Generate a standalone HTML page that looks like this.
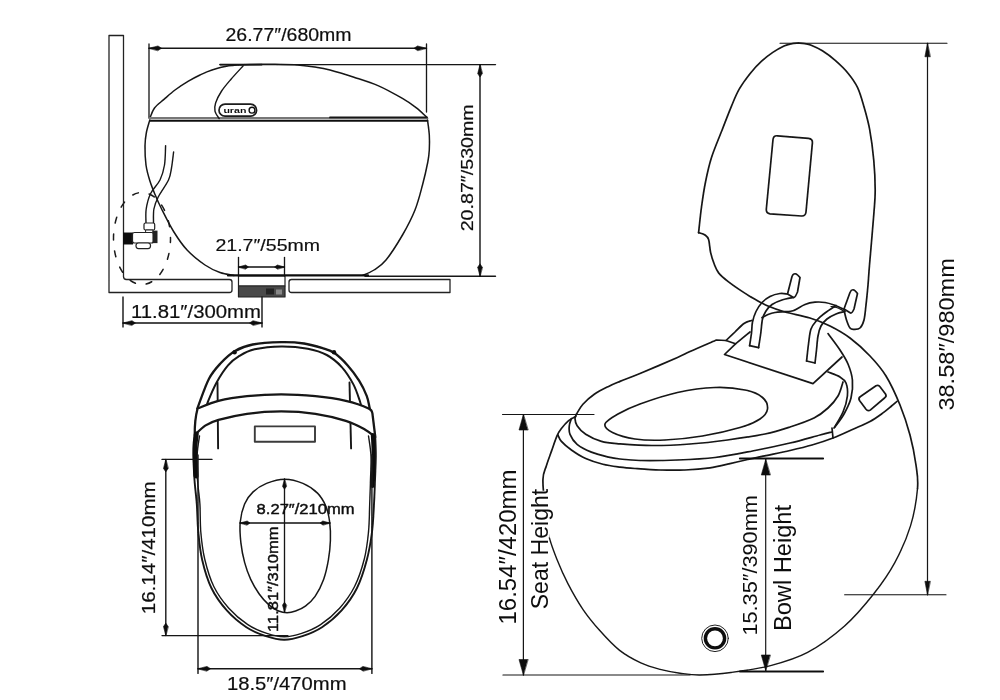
<!DOCTYPE html>
<html><head><meta charset="utf-8"><title>dimensions</title>
<style>
html,body{margin:0;padding:0;background:#fff;}
body{width:1000px;height:700px;overflow:hidden;font-family:"Liberation Sans",sans-serif;}
svg{display:block;}
svg text{font-family:"Liberation Sans",sans-serif;}
</style></head><body>
<svg width="1000" height="700" viewBox="0 0 1000 700" stroke-linecap="round" stroke-linejoin="round">
<defs><filter id="bl" x="0" y="0" width="1000" height="700" filterUnits="userSpaceOnUse"><feGaussianBlur stdDeviation="0.38"/></filter><filter id="br" x="0" y="0" width="1000" height="700" filterUnits="userSpaceOnUse"><feGaussianBlur stdDeviation="0.25"/></filter></defs>
<rect width="1000" height="700" fill="#fff"/>
<g filter="url(#bl)">
<path d="M109,292.5 L109,35.5 L123.5,35.5 L123.5,276.5 Q123.5,279.5 126.5,279.5 L229.5,279.5 Q232,279.5 232,282 L232,290 Q232,292.5 229.5,292.5 Z" fill="none" stroke="#222" stroke-width="1.3" />
<path d="M291.5,279.5 L450,279.5 L450,292.5 L291.5,292.5 Q289,292.5 289,290 L289,282 Q289,279.5 291.5,279.5Z" fill="none" stroke="#222" stroke-width="1.3" />
<rect x="238.5" y="276" width="46.5" height="10" fill="#fff" stroke="#222" stroke-width="1.2"/>
<rect x="238.5" y="286" width="46.5" height="11" fill="#4a4a4a" stroke="#222" stroke-width="1.2"/>
<rect x="266" y="288.5" width="8" height="6" fill="#222"/>
<rect x="276" y="289.5" width="6" height="5" fill="#888"/>
<line x1="149.00" y1="44.00" x2="149.00" y2="118.00" stroke="#151515" stroke-width="1.3" />
<line x1="426.50" y1="44.00" x2="426.50" y2="112.00" stroke="#151515" stroke-width="1.3" />
<line x1="149.00" y1="48.25" x2="426.50" y2="48.25" stroke="#151515" stroke-width="1.4" />
<path d="M149.00,48.25 L158.00,45.95 L161.50,48.25 L158.00,50.55Z" fill="#111" stroke="#111" stroke-width="0.6" stroke-linejoin="round"/>
<path d="M426.50,48.25 L417.50,45.95 L414.00,48.25 L417.50,50.55Z" fill="#111" stroke="#111" stroke-width="0.6" stroke-linejoin="round"/>
<line x1="220.00" y1="64.60" x2="495.50" y2="64.60" stroke="#151515" stroke-width="1.4" />
<line x1="365.00" y1="276.25" x2="495.50" y2="276.25" stroke="#151515" stroke-width="1.4" />
<line x1="480.00" y1="64.60" x2="480.00" y2="276.00" stroke="#151515" stroke-width="1.4" />
<path d="M480.00,64.60 L477.70,73.60 L480.00,77.10 L482.30,73.60Z" fill="#111" stroke="#111" stroke-width="0.6" stroke-linejoin="round"/>
<path d="M480.00,276.25 L477.70,267.25 L480.00,263.75 L482.30,267.25Z" fill="#111" stroke="#111" stroke-width="0.6" stroke-linejoin="round"/>
<line x1="238.50" y1="257.50" x2="238.50" y2="276.00" stroke="#151515" stroke-width="1.3" />
<line x1="284.50" y1="257.50" x2="284.50" y2="276.00" stroke="#151515" stroke-width="1.3" />
<line x1="238.50" y1="267.00" x2="284.50" y2="267.00" stroke="#151515" stroke-width="1.3" />
<path d="M238.50,267.00 L245.70,265.00 L248.50,267.00 L245.70,269.00Z" fill="#111" stroke="#111" stroke-width="0.6" stroke-linejoin="round"/>
<path d="M284.50,267.00 L277.30,265.00 L274.50,267.00 L277.30,269.00Z" fill="#111" stroke="#111" stroke-width="0.6" stroke-linejoin="round"/>
<line x1="123.00" y1="297.00" x2="123.00" y2="327.00" stroke="#151515" stroke-width="1.4" />
<line x1="262.00" y1="297.00" x2="262.00" y2="327.00" stroke="#151515" stroke-width="1.4" />
<line x1="123.00" y1="323.00" x2="262.00" y2="323.00" stroke="#151515" stroke-width="1.4" />
<path d="M123.00,323.00 L132.00,320.70 L135.50,323.00 L132.00,325.30Z" fill="#111" stroke="#111" stroke-width="0.6" stroke-linejoin="round"/>
<path d="M262.00,323.00 L253.00,320.70 L249.50,323.00 L253.00,325.30Z" fill="#111" stroke="#111" stroke-width="0.6" stroke-linejoin="round"/>
<path d="M150.20,117.40 C150.92,115.83 152.20,111.00 154.50,108.00 C156.80,105.00 160.58,102.40 164.00,99.40 C167.42,96.40 171.00,93.00 175.00,90.00 C179.00,87.00 183.83,83.90 188.00,81.40 C192.17,78.90 196.00,76.90 200.00,75.00 C204.00,73.10 207.20,71.53 212.00,70.00 C216.80,68.47 222.47,66.73 228.80,65.80 C235.13,64.87 242.30,64.65 250.00,64.40 C257.70,64.15 266.67,64.17 275.00,64.30 C283.33,64.43 293.33,64.75 300.00,65.20 C306.67,65.65 310.00,66.20 315.00,67.00 C320.00,67.80 323.50,68.30 330.00,70.00 C336.50,71.70 346.00,74.60 354.00,77.20 C362.00,79.80 370.00,82.10 378.00,85.60 C386.00,89.10 395.60,94.50 402.00,98.20 C408.40,101.90 412.32,104.67 416.40,107.80 C420.48,110.93 424.82,115.47 426.50,117.00" fill="none" stroke="#151515" stroke-width="1.5" />
<line x1="220.00" y1="64.60" x2="262.00" y2="64.60" stroke="#151515" stroke-width="1.6" />
<line x1="150.00" y1="118.20" x2="427.00" y2="118.20" stroke="#777" stroke-width="2.6" />
<line x1="330.00" y1="117.40" x2="427.00" y2="117.40" stroke="#151515" stroke-width="1.8" />
<line x1="150.00" y1="120.80" x2="427.50" y2="120.80" stroke="#111" stroke-width="1.8" />
<path d="M427.50,120.00 C427.80,122.50 429.00,130.00 429.30,135.00 C429.60,140.00 429.55,145.50 429.30,150.00 C429.05,154.50 428.93,156.17 427.80,162.00 C426.67,167.83 424.63,177.00 422.50,185.00 C420.37,193.00 418.33,201.67 415.00,210.00 C411.67,218.33 407.33,226.67 402.50,235.00 C397.67,243.33 390.75,254.17 386.00,260.00 C381.25,265.83 377.83,267.45 374.00,270.00 C370.17,272.55 364.83,274.42 363.00,275.30" fill="none" stroke="#151515" stroke-width="1.5" />
<path d="M149.80,120.00 C149.22,122.17 147.10,128.67 146.30,133.00 C145.50,137.33 145.05,140.67 145.00,146.00 C144.95,151.33 145.23,159.33 146.00,165.00 C146.77,170.67 148.15,175.22 149.60,180.00 C151.05,184.78 152.70,188.87 154.70,193.70 C156.70,198.53 158.45,202.70 161.60,209.00 C164.75,215.30 169.32,224.62 173.60,231.50 C177.88,238.38 182.07,244.72 187.30,250.30 C192.53,255.88 199.55,261.30 205.00,265.00 C210.45,268.70 215.17,270.77 220.00,272.50 C224.83,274.23 231.67,274.92 234.00,275.40" fill="none" stroke="#151515" stroke-width="1.5" />
<line x1="228.00" y1="275.40" x2="368.00" y2="275.40" stroke="#111" stroke-width="2.2" />
<path d="M243.20,65.80 C241.20,68.00 234.80,74.80 231.20,79.00 C227.60,83.20 224.20,87.00 221.60,91.00 C219.00,95.00 216.70,99.60 215.60,103.00 C214.50,106.40 214.40,108.80 215.00,111.40 C215.60,114.00 218.50,117.40 219.20,118.60" fill="none" stroke="#151515" stroke-width="1.4" />
<rect x="219" y="104.2" width="37.6" height="12" rx="6" fill="#fff" stroke="#1a1a1a" stroke-width="1.7"/>
<text x="223.40" y="113.00" font-size="8" font-weight="bold" fill="#111" text-anchor="start" textLength="23.0" lengthAdjust="spacingAndGlyphs">uran</text>
<circle cx="252" cy="110.2" r="2.9" fill="none" stroke="#111" stroke-width="1.4"/>
<path d="M165.60,145.60 C165.42,148.83 165.43,159.27 164.50,165.00 C163.57,170.73 162.33,175.22 160.00,180.00 C157.67,184.78 152.80,188.87 150.50,193.70 C148.20,198.53 146.95,204.12 146.20,209.00 C145.45,213.88 146.03,220.67 146.00,223.00" fill="none" stroke="#151515" stroke-width="1.4" />
<path d="M173.60,152.00 C173.25,154.67 172.35,163.33 171.50,168.00 C170.65,172.67 170.72,175.17 168.50,180.00 C166.28,184.83 160.63,192.17 158.20,197.00 C155.77,201.83 154.68,204.67 153.90,209.00 C153.12,213.33 153.57,220.67 153.50,223.00" fill="none" stroke="#151515" stroke-width="1.4" />
<rect x="144" y="223" width="10.7" height="7" rx="1.5" fill="#fff" stroke="#222" stroke-width="1.2"/>
<rect x="146" y="230" width="7" height="4" fill="#fff" stroke="#222" stroke-width="1"/>
<rect x="123" y="232.5" width="10" height="12" fill="#111"/>
<rect x="132.5" y="232.5" width="21" height="10.5" rx="2" fill="#fff" stroke="#222" stroke-width="1.2"/>
<rect x="152.5" y="230.6" width="5" height="12.5" fill="#222"/>
<rect x="136" y="243" width="14.5" height="5.6" rx="2.5" fill="#fff" stroke="#222" stroke-width="1.2"/>
<ellipse cx="142" cy="238.5" rx="28.5" ry="46" fill="none" stroke="#1a1a1a" stroke-width="1.5" stroke-dasharray="6 11" stroke-dashoffset="2"/>
<text x="225.50" y="40.90" font-size="18" font-weight="normal" fill="#111" text-anchor="start" textLength="126.0" lengthAdjust="spacingAndGlyphs" stroke="#111" stroke-width="0.2">26.77″/680mm</text>
<text x="215.50" y="250.80" font-size="17.3" font-weight="normal" fill="#111" text-anchor="start" textLength="104.5" lengthAdjust="spacingAndGlyphs" stroke="#111" stroke-width="0.2">21.7″/55mm</text>
<text x="131.00" y="317.60" font-size="18.3" font-weight="normal" fill="#111" text-anchor="start" textLength="130.0" lengthAdjust="spacingAndGlyphs" stroke="#111" stroke-width="0.2">11.81″/300mm</text>
<text x="472.80" y="231.30" font-size="17.3" font-weight="normal" fill="#111" text-anchor="start" textLength="127.0" lengthAdjust="spacingAndGlyphs" transform="rotate(-90 472.80 231.30)" stroke="#111" stroke-width="0.2">20.87″/530mm</text>
<path d="M197.50,409.00 C197.67,408.38 196.58,410.35 198.50,405.30 C200.42,400.25 205.35,385.67 209.00,378.70 C212.65,371.73 216.13,368.08 220.40,363.50 C224.67,358.92 229.22,354.37 234.60,351.20 C239.98,348.03 244.93,346.00 252.70,344.50 C260.47,343.00 272.65,342.37 281.20,342.20 C289.75,342.03 297.03,342.48 304.00,343.50 C310.97,344.52 317.93,346.72 323.00,348.30 C328.07,349.88 330.28,350.15 334.40,353.00 C338.52,355.85 343.58,360.80 347.70,365.40 C351.82,370.00 355.93,375.53 359.10,380.60 C362.27,385.67 364.97,391.37 366.70,395.80 C368.43,400.23 368.87,404.67 369.50,407.20 C370.13,409.73 370.33,410.37 370.50,411.00" fill="none" stroke="#151515" stroke-width="2.3" />
<path d="M207.00,406.00 C207.17,405.25 206.40,405.42 208.00,401.50 C209.60,397.58 213.27,388.52 216.60,382.50 C219.93,376.48 224.20,369.83 228.00,365.40 C231.80,360.97 234.97,358.58 239.40,355.90 C243.83,353.22 247.63,350.88 254.60,349.30 C261.57,347.72 272.33,346.50 281.20,346.40 C290.07,346.30 300.20,347.27 307.80,348.70 C315.40,350.13 321.10,351.90 326.80,355.00 C332.50,358.10 337.57,362.40 342.00,367.30 C346.43,372.20 350.40,378.70 353.40,384.40 C356.40,390.10 358.73,397.90 360.00,401.50 C361.27,405.10 360.83,405.25 361.00,406.00" fill="none" stroke="#151515" stroke-width="2.0" />
<circle cx="234.6" cy="352.3" r="2.2" fill="#111"/><circle cx="334" cy="352.3" r="2.2" fill="#111"/>
<line x1="217.50" y1="382.50" x2="218.10" y2="448.40" stroke="#151515" stroke-width="1.9" />
<line x1="349.50" y1="382.50" x2="351.10" y2="448.40" stroke="#151515" stroke-width="1.9" />
<path d="M197.60,408.50 C201.08,407.23 210.27,402.95 218.50,400.90 C226.73,398.85 236.55,397.30 247.00,396.20 C257.45,395.10 269.80,394.30 281.20,394.30 C292.60,394.30 304.63,395.10 315.40,396.20 C326.17,397.30 336.93,398.85 345.80,400.90 C354.67,402.95 364.17,406.43 368.60,408.50 C373.03,410.57 371.77,412.50 372.40,413.30 L375.30,437.00 C373.55,435.73 369.72,432.08 364.80,429.40 C359.88,426.72 354.03,423.50 345.80,420.90 C337.57,418.30 326.17,415.38 315.40,413.80 C304.63,412.22 292.60,411.40 281.20,411.40 C269.80,411.40 257.45,412.38 247.00,413.80 C236.55,415.22 225.47,417.93 218.50,419.90 C211.53,421.87 209.16,423.07 205.20,425.60 C201.24,428.13 196.49,433.52 194.75,435.10 Q194.5,420 197.6,408.5Z" fill="#fff" stroke="#151515" stroke-width="2.3" />
<rect x="254.8" y="426.4" width="60.2" height="15.3" fill="none" stroke="#3a3a3a" stroke-width="1.9"/>
<path d="M194.75,435.10 C194.54,438.58 193.54,448.52 193.50,456.00 C193.46,463.48 193.95,472.00 194.50,480.00 C195.05,488.00 196.17,495.33 196.80,504.00 C197.43,512.67 197.40,522.67 198.30,532.00 C199.20,541.33 200.02,550.67 202.20,560.00 C204.38,569.33 207.30,579.60 211.40,588.00 C215.50,596.40 220.97,603.87 226.80,610.40 C232.63,616.93 239.87,622.90 246.40,627.20 C252.93,631.50 259.70,634.10 266.00,636.20 C272.30,638.30 278.13,639.80 284.20,639.80 C290.27,639.80 296.10,638.30 302.40,636.20 C308.70,634.10 315.47,631.50 322.00,627.20 C328.53,622.90 335.77,616.93 341.60,610.40 C347.43,603.87 352.80,596.40 357.00,588.00 C361.20,579.60 364.30,569.33 366.80,560.00 C369.30,550.67 370.80,541.33 372.00,532.00 C373.20,522.67 373.50,512.67 374.00,504.00 C374.50,495.33 374.70,488.00 375.00,480.00 C375.30,472.00 375.75,463.17 375.80,456.00 C375.85,448.83 375.38,440.17 375.30,437.00" fill="none" stroke="#151515" stroke-width="1.9" />
<path d="M199.50,436.00 C199.08,439.33 197.33,448.67 197.00,456.00 C196.67,463.33 197.02,472.00 197.50,480.00 C197.98,488.00 199.35,495.33 199.90,504.00 C200.45,512.67 200.00,522.83 200.80,532.00 C201.60,541.17 202.53,549.92 204.70,559.00 C206.87,568.08 209.78,578.30 213.80,586.50 C217.82,594.70 223.13,601.85 228.80,608.20 C234.47,614.55 241.47,620.40 247.80,624.60 C254.13,628.80 260.73,631.37 266.80,633.40 C272.87,635.43 278.40,636.80 284.20,636.80 C290.00,636.80 295.53,635.43 301.60,633.40 C307.67,631.37 314.27,628.80 320.60,624.60 C326.93,620.40 333.93,614.55 339.60,608.20 C345.27,601.85 350.48,594.70 354.60,586.50 C358.72,578.30 361.98,568.08 364.30,559.00 C366.62,549.92 367.60,541.17 368.50,532.00 C369.40,522.83 369.37,512.67 369.70,504.00 C370.03,495.33 370.28,488.00 370.50,480.00 C370.72,472.00 371.33,463.33 371.00,456.00 C370.67,448.67 368.92,439.33 368.50,436.00" fill="none" stroke="#151515" stroke-width="1.4" />
<path d="M196.30,434.00 C196.08,436.00 195.17,441.67 195.00,446.00 C194.83,450.33 195.13,455.00 195.30,460.00 C195.47,465.00 195.88,473.33 196.00,476.00" fill="none" stroke="#111" stroke-width="5" />
<path d="M372.80,435.00 C372.92,437.50 373.42,444.50 373.50,450.00 C373.58,455.50 373.47,462.00 373.30,468.00 C373.13,474.00 372.63,483.00 372.50,486.00" fill="none" stroke="#111" stroke-width="4" />
<path d="M284.70,479.20 C278.63,479.20 271.77,481.28 266.50,483.40 C261.23,485.52 256.75,488.47 253.10,491.90 C249.45,495.33 246.75,498.93 244.60,504.00 C242.45,509.07 240.82,515.82 240.20,522.30 C239.58,528.78 240.17,536.22 240.90,542.90 C241.63,549.58 242.97,556.32 244.60,562.40 C246.23,568.48 248.27,574.13 250.70,579.40 C253.13,584.67 256.17,589.75 259.20,594.00 C262.23,598.25 265.67,602.07 268.90,604.90 C272.13,607.73 275.57,609.70 278.60,611.00 C281.63,612.30 284.27,612.70 287.10,612.70 C289.93,612.70 292.55,612.10 295.60,611.00 C298.65,609.90 302.15,608.53 305.40,606.10 C308.65,603.67 312.07,600.85 315.10,596.40 C318.13,591.95 321.38,585.48 323.60,579.40 C325.82,573.32 327.27,566.38 328.40,559.90 C329.53,553.42 330.18,546.77 330.40,540.50 C330.62,534.23 330.43,527.97 329.70,522.30 C328.97,516.63 328.03,511.37 326.00,506.50 C323.97,501.63 321.35,496.95 317.50,493.10 C313.65,489.25 308.37,485.72 302.90,483.40 C297.43,481.08 290.77,479.20 284.70,479.20Z" fill="none" stroke="#151515" stroke-width="1.5" />
<line x1="162.00" y1="459.40" x2="212.00" y2="459.40" stroke="#151515" stroke-width="1.3" />
<line x1="162.00" y1="635.60" x2="288.00" y2="635.60" stroke="#151515" stroke-width="1.3" />
<line x1="165.80" y1="459.40" x2="165.80" y2="635.60" stroke="#151515" stroke-width="1.4" />
<path d="M165.80,459.40 L163.50,468.40 L165.80,471.90 L168.10,468.40Z" fill="#111" stroke="#111" stroke-width="0.6" stroke-linejoin="round"/>
<path d="M165.80,635.60 L163.50,626.60 L165.80,623.10 L168.10,626.60Z" fill="#111" stroke="#111" stroke-width="0.6" stroke-linejoin="round"/>
<line x1="198.00" y1="455.00" x2="198.00" y2="673.40" stroke="#151515" stroke-width="1.4" />
<line x1="371.90" y1="455.00" x2="371.90" y2="673.40" stroke="#151515" stroke-width="1.4" />
<line x1="198.00" y1="668.70" x2="371.90" y2="668.70" stroke="#151515" stroke-width="1.4" />
<path d="M198.00,668.70 L207.00,666.40 L210.50,668.70 L207.00,671.00Z" fill="#111" stroke="#111" stroke-width="0.6" stroke-linejoin="round"/>
<path d="M371.90,668.70 L362.90,666.40 L359.40,668.70 L362.90,671.00Z" fill="#111" stroke="#111" stroke-width="0.6" stroke-linejoin="round"/>
<line x1="240.00" y1="523.00" x2="330.00" y2="523.00" stroke="#151515" stroke-width="1.3" />
<path d="M240.00,523.00 L247.20,521.00 L250.00,523.00 L247.20,525.00Z" fill="#111" stroke="#111" stroke-width="0.6" stroke-linejoin="round"/>
<path d="M330.00,523.00 L322.80,521.00 L320.00,523.00 L322.80,525.00Z" fill="#111" stroke="#111" stroke-width="0.6" stroke-linejoin="round"/>
<line x1="284.50" y1="479.00" x2="284.50" y2="612.00" stroke="#151515" stroke-width="1.3" />
<path d="M284.50,479.20 L282.50,486.40 L284.50,489.20 L286.50,486.40Z" fill="#111" stroke="#111" stroke-width="0.6" stroke-linejoin="round"/>
<path d="M284.50,612.20 L282.50,605.00 L284.50,602.20 L286.50,605.00Z" fill="#111" stroke="#111" stroke-width="0.6" stroke-linejoin="round"/>
<text x="256.60" y="513.60" font-size="15" font-weight="normal" fill="#111" text-anchor="start" textLength="98.0" lengthAdjust="spacingAndGlyphs" stroke="#111" stroke-width="0.45">8.27″/210mm</text>
<text x="277.50" y="632.00" font-size="15" font-weight="normal" fill="#111" text-anchor="start" textLength="105.5" lengthAdjust="spacingAndGlyphs" transform="rotate(-90 277.50 632.00)" stroke="#111" stroke-width="0.45">11.81″/310mm</text>
<text x="155.00" y="614.30" font-size="18.5" font-weight="normal" fill="#111" text-anchor="start" textLength="133.0" lengthAdjust="spacingAndGlyphs" transform="rotate(-90 155.00 614.30)" stroke="#111" stroke-width="0.2">16.14″/410mm</text>
<text x="227.00" y="689.60" font-size="17.8" font-weight="normal" fill="#111" text-anchor="start" textLength="119.5" lengthAdjust="spacingAndGlyphs" stroke="#111" stroke-width="0.2">18.5″/470mm</text>
</g>
<g filter="url(#br)">
<path d="M798.40,43.10 C797.17,43.22 793.40,43.32 791.00,43.80 C788.60,44.28 787.03,44.57 784.00,46.00 C780.97,47.43 776.53,49.87 772.80,52.40 C769.07,54.93 765.33,57.73 761.60,61.20 C757.87,64.67 754.13,68.53 750.40,73.20 C746.67,77.87 742.40,83.60 739.20,89.20 C736.00,94.80 734.00,100.13 731.20,106.80 C728.40,113.47 725.68,120.75 722.40,129.20 C719.12,137.65 714.32,148.70 711.50,157.50 C708.68,166.30 707.17,173.75 705.50,182.00 C703.83,190.25 702.65,198.57 701.50,207.00 C700.35,215.43 699.08,228.33 698.60,232.60" fill="none" stroke="#151515" stroke-width="1.7" />
<path d="M698.60,232.60 C699.67,233.00 703.33,233.83 705.00,235.00 C706.67,236.17 707.65,236.62 708.60,239.60 C709.55,242.58 709.75,248.78 710.70,252.90 C711.65,257.02 712.98,260.97 714.30,264.30 C715.62,267.63 716.33,270.05 718.60,272.90 C720.87,275.75 723.98,278.32 727.90,281.40 C731.82,284.48 737.58,288.42 742.10,291.40 C746.62,294.38 750.68,296.87 755.00,299.30 C759.32,301.73 763.00,303.88 768.00,306.00 C773.00,308.12 778.00,310.00 785.00,312.00 C792.00,314.00 802.50,315.67 810.00,318.00 C817.50,320.33 823.33,322.67 830.00,326.00 C836.67,329.33 843.33,333.00 850.00,338.00 C856.67,343.00 864.00,349.67 870.00,356.00 C876.00,362.33 881.00,367.83 886.00,376.00 C891.00,384.17 896.00,395.17 900.00,405.00 C904.00,414.83 907.33,425.00 910.00,435.00 C912.67,445.00 914.75,456.07 916.00,465.00 C917.25,473.93 918.40,478.50 917.50,488.60" fill="none" stroke="#151515" stroke-width="1.7" />
<path d="M917.50,488.60 C916.60,498.70 914.38,513.27 910.60,525.60 C906.82,537.93 900.97,551.20 894.80,562.60 C888.63,574.00 881.97,583.43 873.60,594.00 C865.23,604.57 855.60,616.27 844.60,626.00 C833.60,635.73 819.93,645.80 807.60,652.40 C795.27,659.00 783.37,662.25 770.60,665.60 C757.83,668.95 742.77,670.93 731.00,672.50 C719.23,674.07 708.50,674.88 700.00,675.00 C691.50,675.12 686.65,674.13 680.00,673.20 C673.35,672.27 666.63,671.12 660.10,669.40 C653.57,667.68 647.60,666.12 640.80,662.90 C634.00,659.68 626.10,655.45 619.30,650.10 C612.50,644.75 606.07,637.60 600.00,630.80 C593.93,624.00 588.25,617.17 582.90,609.30 C577.55,601.43 572.18,591.82 567.90,583.60 C563.62,575.38 560.35,567.87 557.20,560.00 C554.05,552.13 550.92,544.07 549.00,536.40 C547.08,528.73 546.72,523.40 545.70,514.00" fill="none" stroke="#151515" stroke-width="1.4" />
<path d="M545.70,514.00 C544.68,504.60 542.78,488.05 542.90,480.00 C543.02,471.95 544.98,470.47 546.40,465.70 C547.82,460.93 549.62,456.40 551.40,451.40 C553.18,446.40 555.43,439.50 557.10,435.70 C558.77,431.90 559.48,431.10 561.40,428.60 C563.32,426.10 566.22,422.73 568.60,420.70 C570.98,418.67 574.52,417.12 575.70,416.40" fill="none" stroke="#151515" stroke-width="1.7" />
<path d="M798.40,43.10 C799.50,43.20 802.87,43.35 805.00,43.70 C807.13,44.05 808.30,44.02 811.20,45.20 C814.10,46.38 818.40,48.27 822.40,50.80 C826.40,53.33 830.93,56.67 835.20,60.40 C839.47,64.13 844.27,68.67 848.00,73.20 C851.73,77.73 854.93,82.00 857.60,87.60 C860.27,93.20 862.00,99.87 864.00,106.80 C866.00,113.73 867.98,120.33 869.60,129.20 C871.23,138.07 872.82,149.87 873.75,160.00 C874.68,170.13 875.20,180.83 875.20,190.00 C875.20,199.17 874.70,202.50 873.75,215.00 C872.80,227.50 870.46,253.33 869.50,265.00 C868.54,276.67 868.58,278.33 868.00,285.00 C867.42,291.67 866.67,299.17 866.00,305.00 C865.33,310.83 865.00,316.17 864.00,320.00 C863.00,323.83 861.67,326.45 860.00,328.00 C858.33,329.55 855.67,329.30 854.00,329.30 C852.33,329.30 851.25,329.55 850.00,328.00 C848.75,326.45 847.50,323.00 846.50,320.00 C845.50,317.00 844.42,311.67 844.00,310.00" fill="none" stroke="#151515" stroke-width="1.7" />
<path d="M777.5,135.8 L808.5,138.3 Q812.8,138.8 812.4,142.8 L806,212 Q805.5,216.3 801.5,216 L770,213.8 Q766,213.3 766.3,209.3 L773,139.5 Q773.5,135.4 777.5,135.8Z" fill="none" stroke="#151515" stroke-width="1.7" />
<path d="M792.00,276.50 Q794.50,270.50 800.00,277.50 L797.50,292.00 Q795.00,298.00 793.50,297.50 L787.50,294.00 Z" fill="none" stroke="#151515" stroke-width="1.7" />
<path d="M850.00,292.50 Q852.50,286.50 857.50,293.50 L854.00,309.00 Q852.00,313.50 850.50,313.00 L844.00,309.00 Z" fill="none" stroke="#151515" stroke-width="1.7" />
<path d="M787.50,294.00 C786.25,293.92 782.92,293.08 780.00,293.50 C777.08,293.92 773.00,295.00 770.00,296.50 C767.00,298.00 764.33,300.00 762.00,302.50 C759.67,305.00 757.58,308.25 756.00,311.50 C754.42,314.75 753.25,318.42 752.50,322.00 C751.75,325.58 751.98,329.07 751.50,333.00 C751.02,336.93 749.92,343.50 749.60,345.60" fill="none" stroke="#151515" stroke-width="1.7" />
<path d="M793.50,297.50 C791.58,297.92 785.58,298.83 782.00,300.00 C778.42,301.17 774.67,302.67 772.00,304.50 C769.33,306.33 767.58,308.58 766.00,311.00 C764.42,313.42 763.37,315.33 762.50,319.00 C761.63,322.67 761.45,328.23 760.80,333.00 C760.15,337.77 758.97,345.17 758.60,347.60" fill="none" stroke="#151515" stroke-width="1.7" />
<path d="M749.60,345.60 L758.60,347.60" fill="none" stroke="#151515" stroke-width="1.7" />
<path d="M836.00,305.50 C834.17,306.75 828.17,310.58 825.00,313.00 C821.83,315.42 819.33,317.33 817.00,320.00 C814.67,322.67 812.42,325.00 811.00,329.00 C809.58,333.00 809.23,338.67 808.50,344.00 C807.77,349.33 806.92,358.17 806.60,361.00" fill="none" stroke="#151515" stroke-width="1.7" />
<path d="M845.00,311.50 C843.50,311.92 839.00,312.75 836.00,314.00 C833.00,315.25 829.50,317.00 827.00,319.00 C824.50,321.00 822.50,323.17 821.00,326.00 C819.50,328.83 818.75,332.00 818.00,336.00 C817.25,340.00 817.00,345.50 816.50,350.00 C816.00,354.50 815.25,360.83 815.00,363.00" fill="none" stroke="#151515" stroke-width="1.7" />
<path d="M806.60,361.00 L815.00,363.00" fill="none" stroke="#151515" stroke-width="1.7" />
<path d="M831.00,306.50 C831.92,306.67 834.50,306.83 836.50,307.50 C838.50,308.17 841.92,310.00 843.00,310.50" fill="none" stroke="#151515" stroke-width="1.2" />
<path d="M762.00,317.50 C763.00,317.00 765.83,315.33 768.00,314.50 C770.17,313.67 772.17,312.98 775.00,312.50 C777.83,312.02 782.00,311.88 785.00,311.60 C788.00,311.32 789.67,311.98 793.00,310.80 C796.33,309.62 801.33,305.93 805.00,304.50 C808.67,303.07 811.67,302.53 815.00,302.20 C818.33,301.87 821.83,302.03 825.00,302.50 C828.17,302.97 830.83,303.87 834.00,305.00 C837.17,306.13 842.33,308.58 844.00,309.30" fill="none" stroke="#151515" stroke-width="1.7" />
<path d="M750.00,332.00 L735.50,343.80 L724.50,354.50 L813.00,383.60 L842.00,357.00" fill="none" stroke="#151515" stroke-width="1.7" />
<path d="M726.00,340.50 C727.50,339.08 732.00,334.83 735.00,332.00 C738.00,329.17 741.25,325.42 744.00,323.50 C746.75,321.58 750.25,321.00 751.50,320.50" fill="none" stroke="#151515" stroke-width="1.7" />
<path d="M576.40,414.30 C577.48,412.63 579.92,407.63 582.90,404.30 C585.88,400.97 590.02,397.28 594.30,394.30 C598.58,391.32 604.32,388.55 608.60,386.40 C612.88,384.25 614.77,383.55 620.00,381.40 C625.23,379.25 630.42,377.48 640.00,373.50 C649.58,369.52 669.17,361.17 677.50,357.50 C685.83,353.83 683.50,354.42 690.00,351.50 C696.50,348.58 712.08,341.92 716.50,340.00 L726,340.5 L735.5,343.8" fill="none" stroke="#151515" stroke-width="1.7" />
<path d="M605.00,424.00 C605.92,420.92 612.17,417.33 618.00,414.00 C623.83,410.67 630.08,407.58 640.00,404.00 C649.92,400.42 665.00,395.25 677.50,392.50 C690.00,389.75 703.75,387.92 715.00,387.50 C726.25,387.08 737.08,388.33 745.00,390.00 C752.92,391.67 758.75,394.33 762.50,397.50 C766.25,400.67 767.92,405.42 767.50,409.00 C767.08,412.58 764.58,415.92 760.00,419.00 C755.42,422.08 749.58,424.67 740.00,427.50 C730.42,430.33 715.00,433.92 702.50,436.00 C690.00,438.08 676.25,439.50 665.00,440.00 C653.75,440.50 643.75,440.25 635.00,439.00 C626.25,437.75 617.50,435.00 612.50,432.50 C607.50,430.00 604.08,427.08 605.00,424.00Z" fill="none" stroke="#151515" stroke-width="1.7" />
<path d="M576.40,414.30 C576.17,415.02 574.88,416.70 575.00,418.60 C575.12,420.50 575.32,423.08 577.10,425.70 C578.88,428.32 581.65,431.68 585.70,434.30 C589.75,436.92 595.68,439.82 601.40,441.40 C607.12,442.98 611.48,443.12 620.00,443.80 C628.52,444.48 640.83,445.47 652.50,445.50 C664.17,445.53 677.50,444.92 690.00,444.00 C702.50,443.08 715.00,441.67 727.50,440.00 C740.00,438.33 754.58,436.17 765.00,434.00 C775.42,431.83 781.83,429.67 790.00,427.00 C798.17,424.33 807.67,421.17 814.00,418.00 C820.33,414.83 824.00,411.67 828.00,408.00 C832.00,404.33 835.50,400.33 838.00,396.00 C840.50,391.67 842.17,384.33 843.00,382.00" fill="none" stroke="#151515" stroke-width="1.7" />
<path d="M571.40,418.60 C571.05,419.78 569.53,423.08 569.30,425.70 C569.07,428.32 568.70,431.20 570.00,434.30 C571.30,437.40 573.53,441.33 577.10,444.30 C580.67,447.27 586.15,449.97 591.40,452.10 C596.65,454.23 603.83,455.95 608.60,457.10 C613.37,458.25 614.77,458.43 620.00,459.00 C625.23,459.57 630.42,460.33 640.00,460.50 C649.58,460.67 665.00,460.50 677.50,460.00 C690.00,459.50 702.50,459.00 715.00,457.50 C727.50,456.00 740.00,453.42 752.50,451.00 C765.00,448.58 778.75,445.67 790.00,443.00 C801.25,440.33 813.00,436.83 820.00,435.00 C827.00,433.17 830.00,432.50 832.00,432.00" fill="none" stroke="#151515" stroke-width="1.7" />
<path d="M557.90,435.00 C558.48,436.07 559.15,438.90 561.40,441.40 C563.65,443.90 567.35,447.13 571.40,450.00 C575.45,452.87 580.45,456.22 585.70,458.60 C590.95,460.98 597.18,462.88 602.90,464.30 C608.62,465.72 614.65,466.40 620.00,467.10 C625.35,467.80 628.33,468.02 635.00,468.50 C641.67,468.98 651.67,469.75 660.00,470.00 C668.33,470.25 676.67,470.37 685.00,470.00 C693.33,469.63 702.50,468.87 710.00,467.80 C717.50,466.73 723.33,465.07 730.00,463.60 C736.67,462.13 744.00,460.33 750.00,459.00 C756.00,457.67 759.33,457.02 766.00,455.60 C772.67,454.18 782.33,452.27 790.00,450.50 C797.67,448.73 804.83,447.08 812.00,445.00 C819.17,442.92 826.17,440.63 833.00,438.00 C839.83,435.37 846.83,431.95 853.00,429.20 C859.17,426.45 865.00,424.22 870.00,421.50 C875.00,418.78 879.42,415.48 883.00,412.90 C886.58,410.32 889.17,407.93 891.50,406.00 C893.83,404.07 896.08,402.08 897.00,401.30" fill="none" stroke="#151515" stroke-width="1.7" />
<path d="M832.00,428.00 L833.00,438.00" fill="none" stroke="#151515" stroke-width="1.7" />
<path d="M828.00,333.60 C830.00,336.33 836.67,344.93 840.00,350.00 C843.33,355.07 845.93,359.00 848.00,364.00 C850.07,369.00 851.90,374.33 852.40,380.00 C852.90,385.67 852.40,392.33 851.00,398.00 C849.60,403.67 846.67,409.17 844.00,414.00 C841.33,418.83 836.50,424.83 835.00,427.00" fill="none" stroke="#151515" stroke-width="1.7" />
<path d="M828.00,372.00 C830.00,372.83 837.00,375.17 840.00,377.00 C843.00,378.83 844.77,379.83 846.00,383.00 C847.23,386.17 847.90,391.17 847.40,396.00 C846.90,400.83 845.23,406.67 843.00,412.00 C840.77,417.33 835.50,425.33 834.00,428.00" fill="none" stroke="#151515" stroke-width="1.7" />
<path d="M859.5,400.5 Q858,398 860.5,396.5 L876,385.8 Q878.5,384.5 880,386.8 L885.5,394 Q887,396.5 884.5,398 L870.5,409.8 Q868,411.8 866,409.3 Z" fill="none" stroke="#151515" stroke-width="1.7" />
<circle cx="715" cy="638.3" r="13.3" fill="none" stroke="#222" stroke-width="1"/>
<circle cx="715" cy="638.3" r="9.6" fill="none" stroke="#111" stroke-width="3.4"/>
<line x1="780.00" y1="43.25" x2="947.00" y2="43.25" stroke="#151515" stroke-width="1.1" />
<line x1="927.50" y1="43.25" x2="927.50" y2="594.80" stroke="#151515" stroke-width="1.2" />
<path d="M927.50,43.25 L924.90,56.75 L930.10,56.75Z" fill="#111" stroke="#111" stroke-width="0.6" stroke-linejoin="round"/>
<path d="M927.50,594.80 L924.90,581.30 L930.10,581.30Z" fill="#111" stroke="#111" stroke-width="0.6" stroke-linejoin="round"/>
<line x1="844.60" y1="594.80" x2="946.00" y2="594.80" stroke="#151515" stroke-width="1.1" />
<line x1="502.50" y1="414.50" x2="594.00" y2="414.50" stroke="#151515" stroke-width="1.1" />
<line x1="503.00" y1="675.00" x2="690.00" y2="675.00" stroke="#151515" stroke-width="1.2" />
<line x1="523.40" y1="414.50" x2="523.40" y2="675.00" stroke="#151515" stroke-width="1.2" />
<path d="M523.40,414.50 L519.00,430.00 L527.80,430.00Z" fill="#111" stroke="#111" stroke-width="0.6" stroke-linejoin="round"/>
<path d="M523.40,675.00 L519.00,659.50 L527.80,659.50Z" fill="#111" stroke="#111" stroke-width="0.6" stroke-linejoin="round"/>
<line x1="740.00" y1="458.50" x2="823.00" y2="458.50" stroke="#111" stroke-width="2.2" />
<line x1="740.00" y1="671.50" x2="823.00" y2="671.50" stroke="#111" stroke-width="2.2" />
<line x1="765.70" y1="458.50" x2="765.70" y2="671.50" stroke="#151515" stroke-width="1.2" />
<path d="M765.70,459.50 L761.30,475.00 L770.10,475.00Z" fill="#111" stroke="#111" stroke-width="0.6" stroke-linejoin="round"/>
<path d="M765.70,670.50 L761.30,655.00 L770.10,655.00Z" fill="#111" stroke="#111" stroke-width="0.6" stroke-linejoin="round"/>
<text x="515.50" y="624.50" font-size="23.5" font-weight="normal" fill="#111" text-anchor="start" textLength="155.0" lengthAdjust="spacingAndGlyphs" transform="rotate(-90 515.50 624.50)">16.54″/420mm</text>
<rect x="529" y="490.8" width="20.6" height="46.7" fill="#fff"/>
<text x="547.80" y="609.30" font-size="24" font-weight="normal" fill="#111" text-anchor="start" textLength="120.5" lengthAdjust="spacingAndGlyphs" transform="rotate(-90 547.80 609.30)">Seat Height</text>
<text x="756.70" y="635.60" font-size="21" font-weight="normal" fill="#111" text-anchor="start" textLength="140.5" lengthAdjust="spacingAndGlyphs" transform="rotate(-90 756.70 635.60)">15.35″/390mm</text>
<text x="790.70" y="631.00" font-size="23.5" font-weight="normal" fill="#111" text-anchor="start" textLength="126.0" lengthAdjust="spacingAndGlyphs" transform="rotate(-90 790.70 631.00)">Bowl Height</text>
<text x="954.00" y="410.60" font-size="22.7" font-weight="normal" fill="#111" text-anchor="start" textLength="152.5" lengthAdjust="spacingAndGlyphs" transform="rotate(-90 954.00 410.60)">38.58″/980mm</text>
</g>
</svg>
</body></html>
